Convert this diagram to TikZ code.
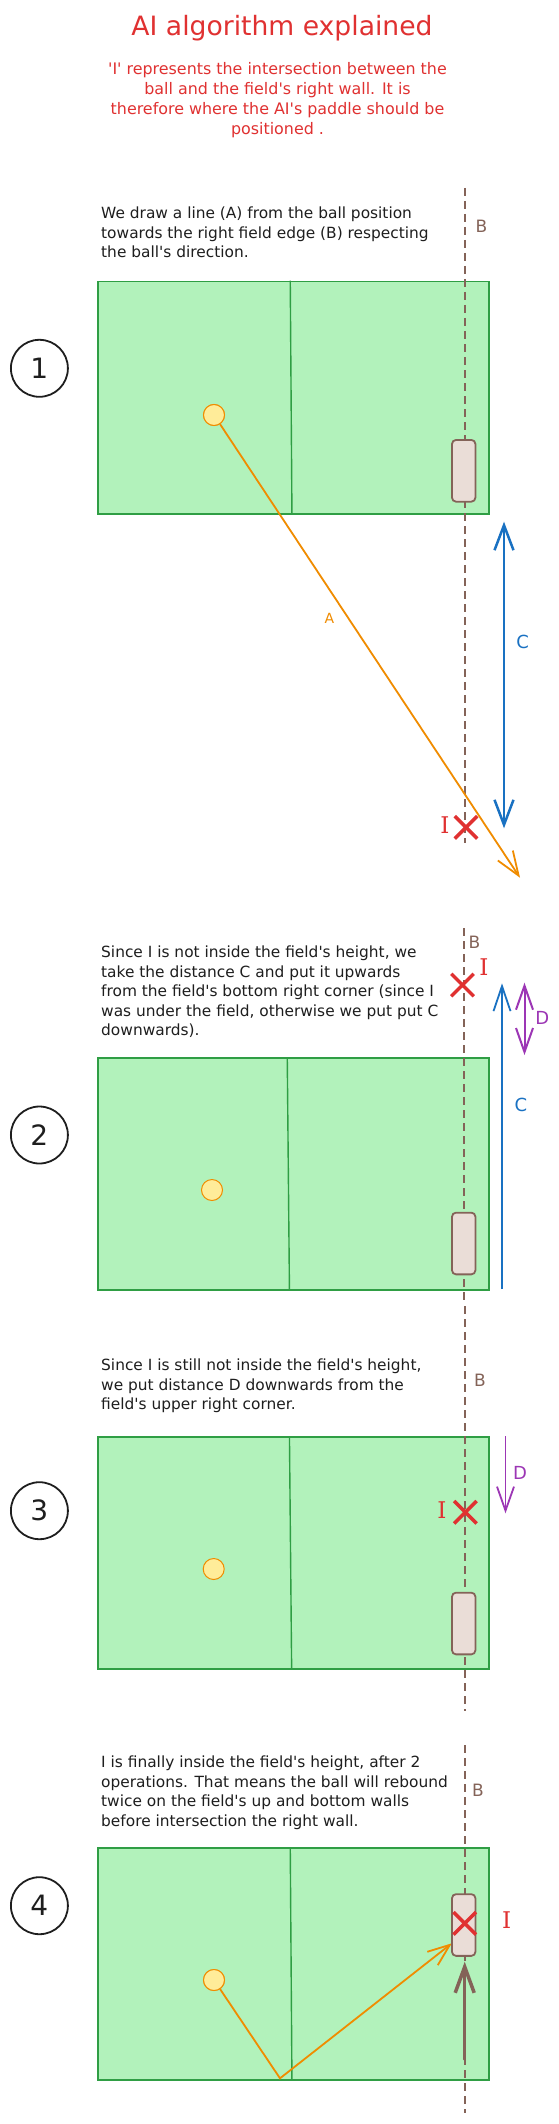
\documentclass[tikz,border=0pt]{standalone}
\usepackage{fontspec}
\setmainfont{DejaVu Sans}[Ligatures=TeXOff]
\newfontfamily\ifont{DejaVu Serif}
\usetikzlibrary{arrows.meta,shapes.misc}
\definecolor{exred}{HTML}{E03131}
\definecolor{exgreen}{HTML}{2F9E44}
\definecolor{exgreenfill}{HTML}{B2F2BB}
\definecolor{exorange}{HTML}{F08C00}
\definecolor{exyellow}{HTML}{FFEC99}
\definecolor{exblue}{HTML}{1971C2}
\definecolor{expurple}{HTML}{9C36B5}
\definecolor{exbrown}{HTML}{846358}
\definecolor{expaddle}{HTML}{EADDD7}
\definecolor{exblack}{HTML}{1E1E1E}
\begin{document}
\begin{tikzpicture}[x=1pt,y=-1pt,
  field/.style={draw=exgreen, fill=exgreenfill, line width=1.8pt, minimum width=391.3pt, minimum height=232pt, anchor=north west, inner sep=0},
  midline/.style={draw=exgreen, line width=1.4pt},
  bline/.style={draw=exbrown, line width=2pt, dash pattern=on 8pt off 5pt},
  paddle/.style={draw=exbrown, fill=expaddle, line width=1.8pt, rounded corners=4pt, minimum width=23.4pt, minimum height=61.7pt, inner sep=0},
  ball/.style={circle, draw=exorange, fill=exyellow, line width=1pt, minimum size=21pt, inner sep=0},
  numcirc/.style={circle, draw=exblack, line width=1.8pt, minimum size=57pt, inner sep=0, font=\fontsize{28}{28}\selectfont, text=exblack},
  crossmark/.style={cross out, draw=exred, line width=3.5pt, minimum size=19pt, inner sep=0},
  desc/.style={anchor=north west, align=left, inner sep=0, font=\fontsize{15.4}{19.5}\selectfont, text=exblack},
  oline/.style={draw=exorange, line width=1.8pt},
  lblB/.style={text=exbrown, font=\fontsize{17}{17}\selectfont, inner sep=0},
  lblI/.style={text=exred, font=\ifont\fontsize{23}{23}\selectfont, inner sep=0},
  lblC/.style={text=exblue, font=\fontsize{18}{18}\selectfont, inner sep=0},
  lblD/.style={text=expurple, font=\fontsize{18}{18}\selectfont, inner sep=0},
]
\useasboundingbox[fill=white] (0,0) rectangle (559,2124);

% title
\node[anchor=base, text=exred, font=\fontsize{26.6}{30}\selectfont, inner sep=0] (title) at (282,36) {AI algorithm explained};
\node[anchor=north, align=center, text=exred, font=\fontsize{15.9}{20}\selectfont, inner sep=0] (subtitle) at (277.5,62) {'I' represents the intersection between the\\ball and the field's right wall. It is\\therefore where the AI's paddle should be\\positioned .};

% ---------- step 1 ----------
\node[desc] (t1) at (101,206.8) {We draw a line (A) from the ball position\\towards the right field edge (B) respecting\\the ball's direction.};
\node[numcirc] (n1) at (39.4,368.3) {1};
\node[field] (f1) at (96.7,280.7) {};
\draw[midline] ([xshift=-3pt]f1.north) -- ([xshift=-1.3pt]f1.south);
\coordinate (b1t) at (465,188);
\coordinate (b1b) at (465,843);
\draw[bline] (b1t) -- (b1b);
\node[lblB] (B1) at (481.5,226.7) {B};
\node[ball] (ball1) at (214,415) {};
\coordinate (a1tip) at (520,877.7);
\draw[oline, -{Straight Barb[length=24pt,width=18pt]}] (ball1) -- (a1tip);
\node[ball] at (214,415) {};
\node[text=exorange, font=\fontsize{14}{14}\selectfont, inner sep=0] (lA) at (329.4,618.3) {A};
\node[paddle] (pad1) at (463.7,470.8) {};
\coordinate (c1top) at (504,521.7);
\coordinate (c1bot) at (504,828.3);
\draw[draw=exblue, line width=2.5pt, {Straight Barb[length=25pt,width=19pt]}-{Straight Barb[length=25pt,width=19pt]}] (c1top) -- (c1bot);
\node[lblC] (C1) at (522.7,641.7) {C};
\node[crossmark] (x1) at (466,827.3) {};
\node[lblI] (I1) at (445,825) {I};

% ---------- step 2 ----------
\node[desc] (t2) at (101,945.6) {Since I is not inside the field's height, we\\take the distance C and put it upwards\\from the field's bottom right corner (since I\\was under the field, otherwise we put put C\\downwards).};
\node[numcirc] (n2) at (39.4,1135) {2};
\node[field] (f2) at (96.7,1057) {};
\draw[midline] ([xshift=-6pt]f2.north) -- ([xshift=-3.8pt]f2.south);
\coordinate (b2t) at (463.5,928);
\coordinate (b2b) at (463.5,1300);
\draw[bline] (b2t) -- (b2b);
\node[lblB] (B2) at (474.4,942.7) {B};
\node[ball] (ball2) at (212,1190) {};
\node[paddle] (pad2) at (463.7,1243.5) {};
\node[crossmark] (x2) at (462.5,985) {};
\node[lblI] (I2) at (484,966.7) {I};
\coordinate (c2bot) at (502,1289);
\coordinate (c2top) at (502,983.3);
\draw[draw=exblue, line width=1.8pt, -{Straight Barb[length=25pt,width=17pt]}] (c2bot) -- (c2top);
\node[lblC] (C2) at (521,1105) {C};
\coordinate (d2top) at (524.5,982.7);
\coordinate (d2bot) at (524.5,1055);
\draw[draw=expurple, line width=2pt, {Straight Barb[length=24pt,width=17pt]}-{Straight Barb[length=24pt,width=17pt]}] (d2top) -- (d2bot);
\node[lblD] (D2) at (542.4,1018) {D};

% ---------- step 3 ----------
\node[desc] (t3) at (101,1359) {Since I is still not inside the field's height,\\we put distance D downwards from the\\field's upper right corner.};
\node[numcirc] (n3) at (39.4,1510.7) {3};
\node[field] (f3) at (96.7,1436) {};
\draw[midline] ([xshift=-3.8pt]f3.north) -- ([xshift=-1.6pt]f3.south);
\coordinate (b3t) at (464.5,1306);
\coordinate (b3b) at (464.5,1711);
\draw[bline] (b3t) -- (b3b);
\node[lblB] (B3) at (480,1380) {B};
\node[ball] (ball3) at (213.7,1569) {};
\node[paddle] (pad3) at (463.7,1623.5) {};
\node[crossmark] (x3) at (465.4,1512.3) {};
\node[lblI] (I3) at (442,1510) {I};
\coordinate (d3top) at (505.5,1436);
\coordinate (d3bot) at (505.5,1513.3);
\draw[draw=expurple, line width=1.8pt, -{Straight Barb[length=24pt,width=17pt]}] (d3top) -- (d3bot);
\node[lblD] (D3) at (520,1472.7) {D};

% ---------- step 4 ----------
\node[desc] (t4) at (101,1755.6) {I is finally inside the field's height, after 2\\operations. That means the ball will rebound\\twice on the field's up and bottom walls\\before intersection the right wall.};
\node[numcirc] (n4) at (39.4,1905.7) {4};
\node[field] (f4) at (96.7,1847) {};
\draw[midline] ([xshift=-3pt]f4.north) -- ([xshift=-1.3pt]f4.south);
\coordinate (b4t) at (464.7,1745);
\coordinate (b4b) at (464.7,2113);
\draw[bline] (b4t) -- (b4b);
\node[lblB] (B4) at (478,1790.7) {B};
\node[ball] (ball4) at (214,1980) {};
\coordinate (bounce4) at (280,2078.3);
\coordinate (a4tip) at (451.8,1943.3);
\draw[oline, -{Straight Barb[length=22pt,width=17pt]}] (ball4) -- (bounce4) -- (a4tip);
\node[ball] at (214,1980) {};
\node[paddle] (pad4) at (463.7,1925) {};
\coordinate (p4s) at (464.7,2059.3);
\coordinate (p4e) at (464.7,1961.7);
\draw[draw=exbrown, line width=3.5pt, line cap=round, -{Straight Barb[length=26pt,width=19pt]}] (p4s) -- (p4e);
\node[crossmark] (x4) at (464.7,1923.3) {};
\node[lblI] (I4) at (506.6,1920) {I};
\end{tikzpicture}
\end{document}
